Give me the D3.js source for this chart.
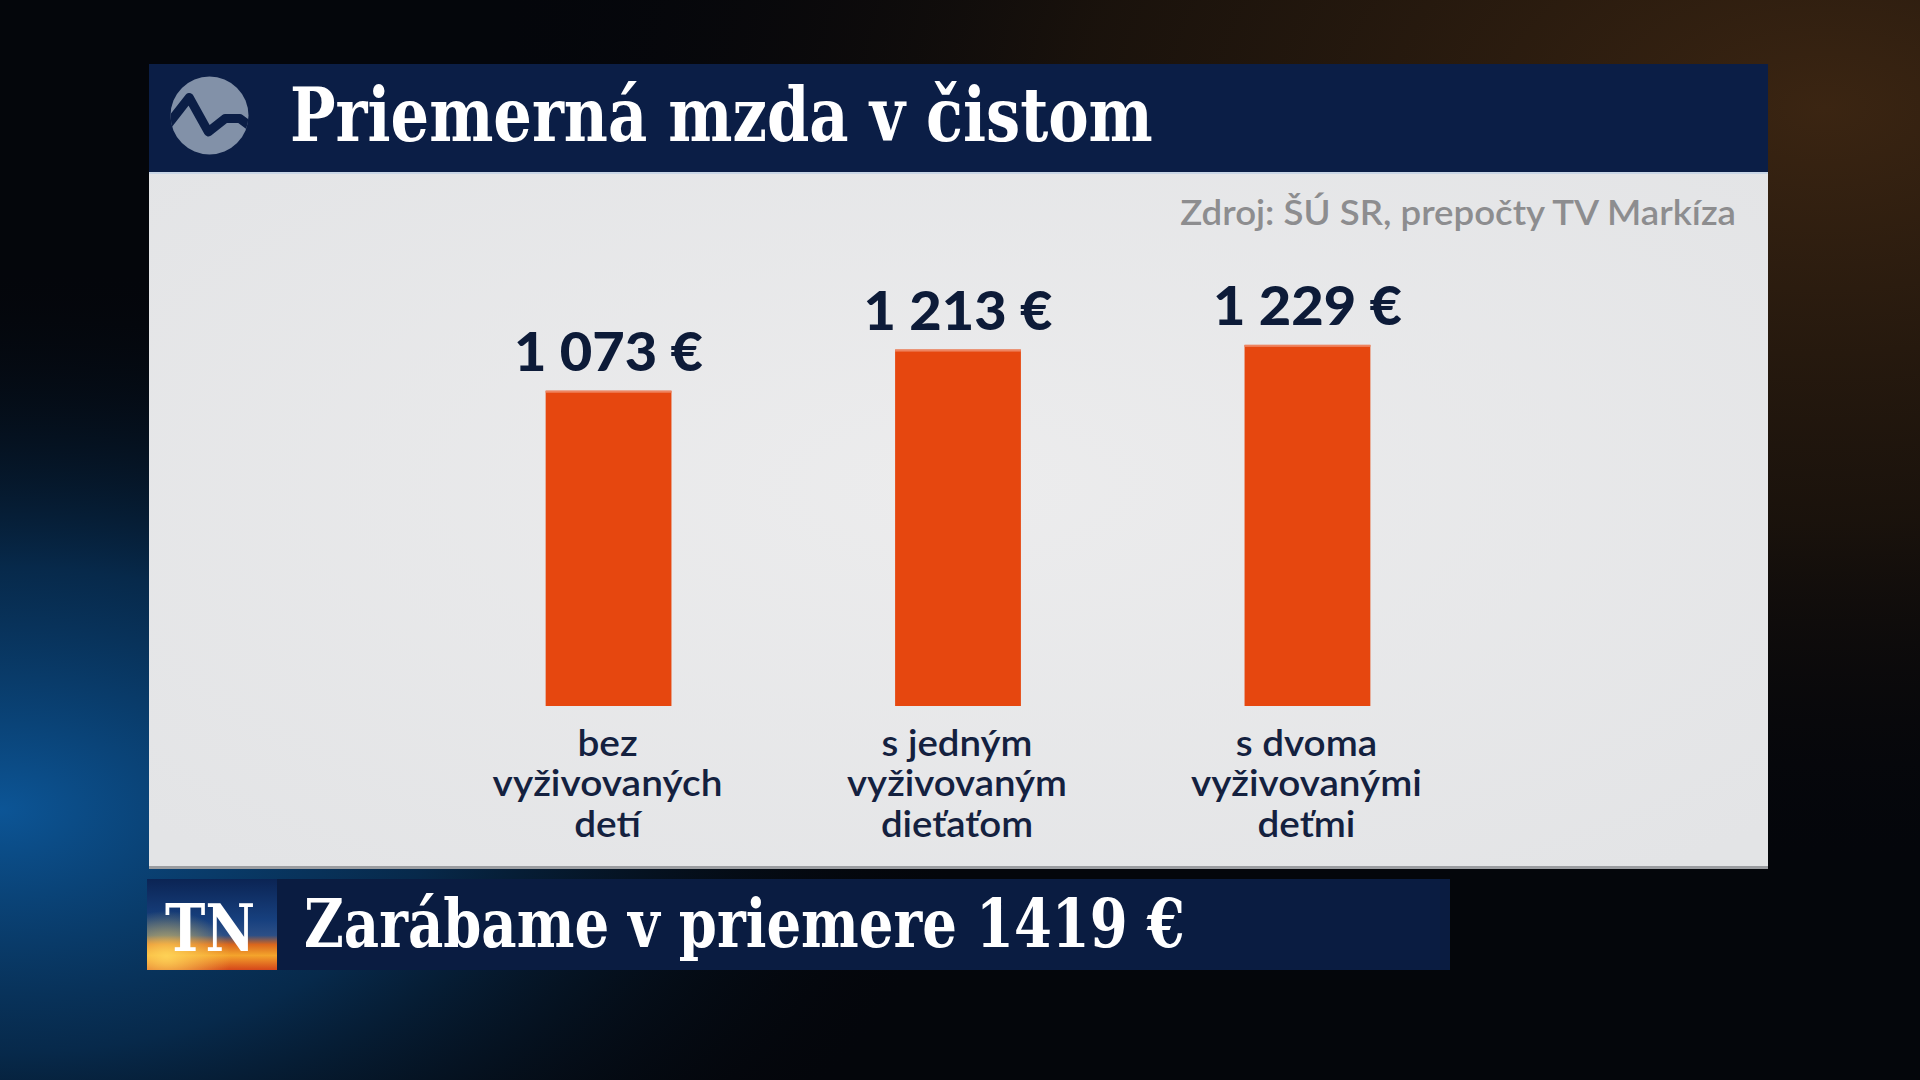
<!DOCTYPE html>
<html>
<head>
<meta charset="utf-8">
<script src="https://cdn.jsdelivr.net/npm/d3@7"></script>
<style>
  html, body { margin: 0; padding: 0; background: #04060b; overflow: hidden; }
  svg { display: block; }
</style>
</head>
<body>
<svg id="chart" width="1920" height="1080"></svg>
<script>
// ---- data ----
const categories = [
  ["bez", "vyživovaných", "detí"],
  ["s jedným", "vyživovaným", "dieťaťom"],
  ["s dvoma", "vyživovanými", "deťmi"]
];
const values = [1073, 1213, 1229];
const valueLabels = ["1 073 €", "1 213 €", "1 229 €"];
const titleText = "Priemerná mzda v čistom";
const sourceText = "Zdroj: ŠÚ SR, prepočty TV Markíza";
const tickerText = "Zarábame v priemere 1419 €";

// ---- setup ----
const svg = d3.select("#chart");
const defs = svg.append("defs");

// background gradients
const bgBlue = defs.append("radialGradient").attr("id", "bgBlue")
  .attr("cx", 0.0).attr("cy", 0.75).attr("r", 0.5);
bgBlue.append("stop").attr("offset", "0%").attr("stop-color", "#0c5596").attr("stop-opacity", 1);
bgBlue.append("stop").attr("offset", "45%").attr("stop-color", "#083560").attr("stop-opacity", 0.75);
bgBlue.append("stop").attr("offset", "100%").attr("stop-color", "#04070d").attr("stop-opacity", 0);

const bgOrange = defs.append("radialGradient").attr("id", "bgOrange")
  .attr("cx", 0.95).attr("cy", 0.1).attr("r", 0.7);
bgOrange.append("stop").attr("offset", "0%").attr("stop-color", "#3b2512").attr("stop-opacity", 1);
bgOrange.append("stop").attr("offset", "55%").attr("stop-color", "#1f150c").attr("stop-opacity", 0.8);
bgOrange.append("stop").attr("offset", "100%").attr("stop-color", "#05060a").attr("stop-opacity", 0);

const panelGrad = defs.append("radialGradient").attr("id", "panelGrad")
  .attr("cx", 0.5).attr("cy", 0.45).attr("r", 0.7);
panelGrad.append("stop").attr("offset", "0%").attr("stop-color", "#ececed");
panelGrad.append("stop").attr("offset", "100%").attr("stop-color", "#e3e4e6");

const tnGrad = defs.append("linearGradient").attr("id", "tnGrad")
  .attr("x1", 0).attr("y1", 0).attr("x2", 0).attr("y2", 1);
[["0%", "#0b2454"], ["45%", "#17407e"], ["62%", "#2c4f86"], ["72%", "#d9661d"],
 ["84%", "#f4a42c"], ["100%", "#d5461a"]].forEach(([o, c]) =>
  tnGrad.append("stop").attr("offset", o).attr("stop-color", c));

const tnGlow = defs.append("radialGradient").attr("id", "tnGlow")
  .attr("cx", 0.15).attr("cy", 0.85).attr("r", 0.5);
tnGlow.append("stop").attr("offset", "0%").attr("stop-color", "#ffd65a").attr("stop-opacity", 0.9);
tnGlow.append("stop").attr("offset", "100%").attr("stop-color", "#ffd65a").attr("stop-opacity", 0);

// background
svg.append("rect").attr("width", 1920).attr("height", 1080).attr("fill", "#04060b");
svg.append("rect").attr("width", 1920).attr("height", 1080).attr("fill", "url(#bgBlue)");
svg.append("rect").attr("width", 1920).attr("height", 1080).attr("fill", "url(#bgOrange)");

// ---- layout ----
const panel = { x: 149, y: 64, w: 1619, titleH: 108, bottom: 869 };

// title bar
svg.append("rect").attr("x", panel.x).attr("y", panel.y)
  .attr("width", panel.w).attr("height", panel.titleH).attr("fill", "#0b1e46");
// panel body
svg.append("rect").attr("x", panel.x).attr("y", panel.y + panel.titleH)
  .attr("width", panel.w).attr("height", panel.bottom - panel.y - panel.titleH)
  .attr("fill", "url(#panelGrad)");
svg.append("rect").attr("x", panel.x).attr("y", panel.y + panel.titleH)
  .attr("width", panel.w).attr("height", 2).attr("fill", "#c9d6e6");
svg.append("rect").attr("x", panel.x).attr("y", panel.bottom - 3)
  .attr("width", panel.w).attr("height", 3).attr("fill", "#9a9ca0");

// logo
const logo = { cx: 209.5, cy: 115.5, r: 39 };
defs.append("clipPath").attr("id", "logoClip").append("circle")
  .attr("cx", logo.cx).attr("cy", logo.cy).attr("r", logo.r);
svg.append("circle").attr("cx", logo.cx).attr("cy", logo.cy).attr("r", logo.r).attr("fill", "#8291a8");
const zig = [[-1.1, 0.28], [-0.52, -0.46], [-0.03, 0.42], [0.40, 0.08], [0.78, 0.08], [1.1, 0.32]];
svg.append("path").attr("clip-path", "url(#logoClip)")
  .attr("d", d3.line().x(d => logo.cx + d[0] * logo.r).y(d => logo.cy + d[1] * logo.r)
    .curve(d3.curveLinear)(zig))
  .attr("fill", "none").attr("stroke", "#0b1e46").attr("stroke-width", 9)
  .attr("stroke-linejoin", "round");

// helper: horizontally fit text into a width
function fit(sel, target) {
  sel.each(function () {
    const w = this.getComputedTextLength();
    if (w > 0) {
      const s = target / w;
      const t = d3.select(this);
      const x = +t.attr("data-x"), y = +t.attr("data-y");
      t.attr("transform", `translate(${x},${y}) scale(${s},1)`);
    }
  });
}
function placeText(parent, str, x, y, anchor) {
  return parent.append("text").text(str)
    .attr("data-x", x).attr("data-y", y)
    .attr("transform", `translate(${x},${y})`)
    .attr("text-anchor", anchor || "start");
}

// title
const title = placeText(svg, titleText, 290, 141)
  .attr("font-family", "'DejaVu Serif', serif").attr("font-weight", "bold")
  .attr("font-size", 75).attr("fill", "#ffffff");
fit(title, 863);

// source
const src = placeText(svg, sourceText, 1736, 225, "end")
  .attr("font-family", "Lato, 'Open Sans', sans-serif").attr("font-weight", 600)
  .attr("font-size", 35).attr("fill", "#8d8d8f");
fit(src, 556);

// ---- bars ----
const x = d3.scaleBand().domain(d3.range(values.length))
  .range([322, 1594]).paddingInner(0.64).paddingOuter(0.64);
const y = d3.scaleLinear().domain([0, 1300]).range([706, 324]);

const g = svg.append("g");
g.selectAll("rect.bar").data(values).join("rect").attr("class", "bar")
  .attr("x", (d, i) => x(i)).attr("width", x.bandwidth())
  .attr("y", d => y(d)).attr("height", d => y(0) - y(d))
  .attr("fill", "#e6470f");
g.selectAll("rect.barTop").data(values).join("rect").attr("class", "barTop")
  .attr("x", (d, i) => x(i)).attr("width", x.bandwidth())
  .attr("y", d => y(d)).attr("height", 2)
  .attr("fill", "#ee8460");

// value labels
values.forEach((v, i) => {
  const cx = x(i) + x.bandwidth() / 2;
  const t = placeText(g, valueLabels[i], cx, y(v) - 20, "middle")
    .attr("font-family", "Lato, sans-serif").attr("font-weight", 900)
    .attr("font-size", 53).attr("fill", "#0d1b38");
  fit(t, 189);
});

// category labels
const lineBase = [755.5, 796, 836.5];
const catWidths = [230, 220, 231];
categories.forEach((lines, i) => {
  const cx = x(i) + x.bandwidth() / 2 - 1;
  const texts = lines.map((ln, j) => placeText(g, ln, cx, lineBase[j], "middle")
    .attr("font-family", "Lato, sans-serif").attr("font-weight", 600)
    .attr("font-size", 36).attr("fill", "#14213f"));
  const widest = d3.max(texts, t => t.node().getComputedTextLength());
  const s = catWidths[i] / widest;
  texts.forEach((t, j) => t.attr("transform", `translate(${cx},${lineBase[j]}) scale(${s},1)`));
});

// ---- ticker ----
svg.append("rect").attr("x", 277).attr("y", 879).attr("width", 1173).attr("height", 91)
  .attr("fill", "#0a1c41");
svg.append("rect").attr("x", 147).attr("y", 879).attr("width", 130).attr("height", 91)
  .attr("fill", "url(#tnGrad)");
svg.append("rect").attr("x", 147).attr("y", 879).attr("width", 130).attr("height", 91)
  .attr("fill", "url(#tnGlow)");
const tn = placeText(svg, "TN", 210, 951, "middle")
  .attr("font-family", "'DejaVu Serif', serif").attr("font-weight", "bold")
  .attr("font-size", 66).attr("fill", "#ffffff");
fit(tn, 90);

const tick = placeText(svg, tickerText, 304, 947)
  .attr("font-family", "'DejaVu Serif', serif").attr("font-weight", "bold")
  .attr("font-size", 67).attr("fill", "#ffffff");
fit(tick, 881);
</script>
</body>
</html>
